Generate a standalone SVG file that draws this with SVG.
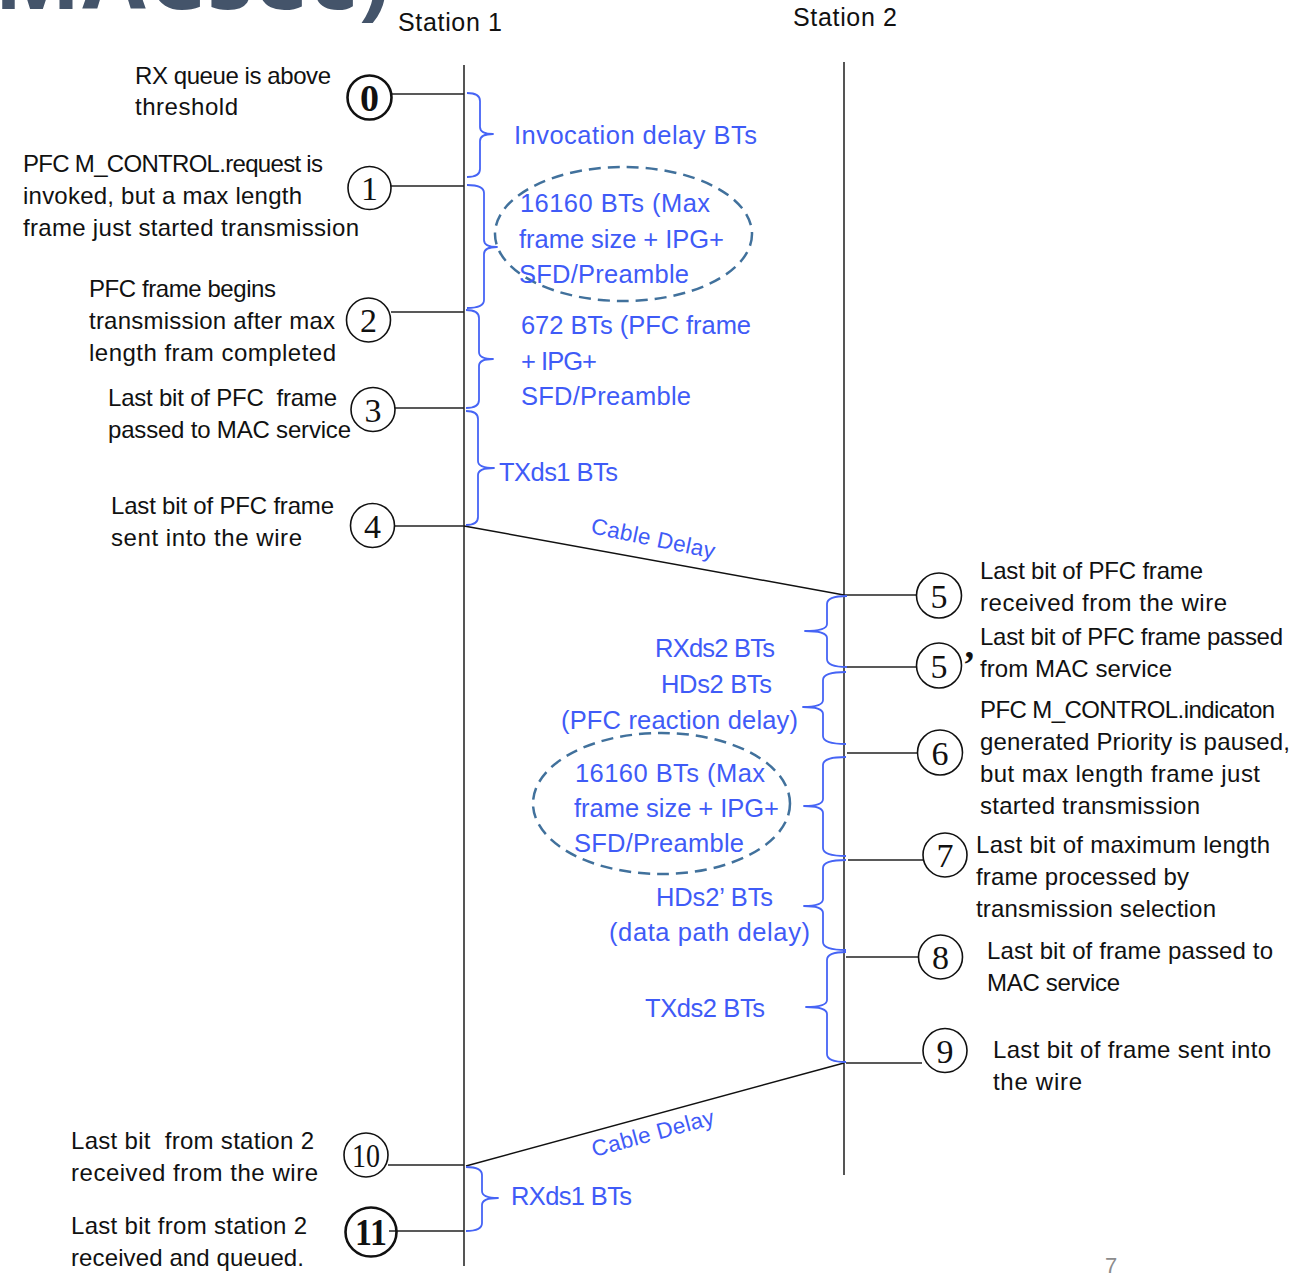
<svg xmlns="http://www.w3.org/2000/svg" width="1294" height="1275" viewBox="0 0 1294 1275">
  <defs>
    <style>
      .title { font-family: "Open Sans", "Liberation Sans", sans-serif; font-weight: 700; fill: #44546A; }
      .hdr { font-family: "Liberation Sans", Arial, sans-serif; font-size: 25px; fill: #111; }
      .lbl { font-family: "Liberation Sans", Arial, sans-serif; font-size: 24px; fill: #111; }
      .blu { font-family: "Liberation Sans", Arial, sans-serif; font-size: 25.5px; fill: #3F5BF7; }
      .cab { font-family: "Liberation Sans", Arial, sans-serif; font-size: 22.5px; fill: #3F5BF7; }
      .num { font-family: "Liberation Serif", "DejaVu Serif", serif; font-size: 34px; fill: #111; text-anchor: middle; }
      .numb { font-family: "Liberation Serif", "DejaVu Serif", serif; font-size: 38px; font-weight: 700; fill: #111; text-anchor: middle; }
      .ring { fill: none; stroke: #111; stroke-width: 1.6; }
      .ringb { fill: none; stroke: #111; stroke-width: 2.6; }
      .life { stroke: #555; stroke-width: 2; }
      .lead { stroke: #222; stroke-width: 1.5; }
      .wire { stroke: #111; stroke-width: 1.5; fill: none; }
      .brace { fill: none; stroke: #4664F5; stroke-width: 1.8; stroke-linejoin: round; }
      .dash { fill: none; stroke: #41719C; stroke-width: 2.5; stroke-dasharray: 12 7; }
      .page { font-family: "Liberation Sans", Arial, sans-serif; font-size: 22px; fill: #8C8C8C; }
    </style>
  </defs>

  <rect width="1294" height="1275" fill="#fff"/>

  <!-- slide title, clipped at the top edge -->
  <text class="title" x="-6" y="9" font-size="92" textLength="396">MACsec)</text>

  <!-- station headers and lifelines -->
  <g id="station1">
    <text class="hdr" x="398" y="31" textLength="104">Station 1</text>
    <line class="life" x1="464" y1="65" x2="464" y2="1266"/>
  </g>
  <g id="station2">
    <text class="hdr" x="793" y="26" textLength="104">Station 2</text>
    <line class="life" x1="844" y1="62" x2="844" y2="1175"/>
  </g>

  <!-- leader lines and cable transfers -->
  <g id="connectors">
    <line class="lead" x1="391" y1="94" x2="464" y2="94"/>
    <line class="lead" x1="391" y1="186" x2="464" y2="186"/>
    <line class="lead" x1="391" y1="312" x2="464" y2="312"/>
    <line class="lead" x1="395" y1="408" x2="464" y2="408"/>
    <line class="lead" x1="395" y1="526" x2="464" y2="526"/>
    <line class="lead" x1="844" y1="595" x2="917" y2="595"/>
    <line class="lead" x1="846" y1="667" x2="917" y2="667"/>
    <line class="lead" x1="847" y1="753" x2="918" y2="753"/>
    <line class="lead" x1="848" y1="860" x2="923" y2="860"/>
    <line class="lead" x1="846" y1="957" x2="918" y2="957"/>
    <line class="lead" x1="846" y1="1063" x2="922" y2="1063"/>
    <line class="lead" x1="388" y1="1165" x2="464" y2="1165"/>
    <line class="lead" x1="389" y1="1231" x2="464" y2="1231"/>
    <line class="wire" x1="464" y1="526" x2="844" y2="595"/>
    <line class="wire" x1="844" y1="1063" x2="466" y2="1166"/>
    <text class="cab" transform="translate(590,533) rotate(11.8)" textLength="126">Cable Delay</text>
    <text class="cab" transform="translate(594,1157) rotate(-15.2)" textLength="126">Cable Delay</text>
  </g>

  <!-- Station 1 events -->
  <g id="ev0">
    <circle class="ringb" cx="369.5" cy="97.5" r="22"/>
    <text class="numb" x="369.5" y="111" font-size="42">0</text>
    <text class="lbl" x="135" y="84" textLength="196">RX queue is above</text>
    <text class="lbl" x="135" y="115" textLength="103">threshold</text>
  </g>
  <g id="ev1">
    <circle class="ring" cx="369.5" cy="188" r="21.5"/>
    <text class="num" x="369.5" y="200">1</text>
    <text class="lbl" x="23" y="172" textLength="300">PFC M_CONTROL.request is</text>
    <text class="lbl" x="23" y="204" textLength="279">invoked, but a max length</text>
    <text class="lbl" x="23" y="236" textLength="336">frame just started transmission</text>
  </g>
  <g id="ev2">
    <circle class="ring" cx="368.5" cy="320" r="22"/>
    <text class="num" x="368.5" y="332">2</text>
    <text class="lbl" x="89" y="297" textLength="187">PFC frame begins</text>
    <text class="lbl" x="89" y="329" textLength="246">transmission after max</text>
    <text class="lbl" x="89" y="361" textLength="247">length fram completed</text>
  </g>
  <g id="ev3">
    <circle class="ring" cx="373" cy="409.5" r="22"/>
    <text class="num" x="373" y="421.5">3</text>
    <text class="lbl" x="108" y="406" xml:space="preserve" textLength="229">Last bit of PFC  frame</text>
    <text class="lbl" x="108" y="438" textLength="243">passed to MAC service</text>
  </g>
  <g id="ev4">
    <circle class="ring" cx="372.5" cy="525.5" r="22"/>
    <text class="num" x="372.5" y="537.5">4</text>
    <text class="lbl" x="111" y="514" textLength="223">Last bit of PFC frame</text>
    <text class="lbl" x="111" y="546" textLength="191">sent into the wire</text>
  </g>

  <!-- Station 2 events -->
  <g id="ev5">
    <circle class="ring" cx="939" cy="595.5" r="22.5"/>
    <text class="num" x="939" y="607.5">5</text>
    <text class="lbl" x="980" y="579" textLength="223">Last bit of PFC frame</text>
    <text class="lbl" x="980" y="611" textLength="247">received from the wire</text>
  </g>
  <g id="ev5p">
    <circle class="ring" cx="939" cy="665.5" r="22.5"/>
    <text class="num" x="939" y="677.5">5</text>
    <text class="numb" x="969" y="677" font-size="40">’</text>
    <text class="lbl" x="980" y="645" textLength="303">Last bit of PFC frame passed</text>
    <text class="lbl" x="980" y="677" textLength="192">from MAC service</text>
  </g>
  <g id="ev6">
    <circle class="ring" cx="940" cy="752.5" r="22.5"/>
    <text class="num" x="940" y="764.5">6</text>
    <text class="lbl" x="980" y="718" textLength="295">PFC M_CONTROL.indicaton</text>
    <text class="lbl" x="980" y="750" textLength="310">generated Priority is paused,</text>
    <text class="lbl" x="980" y="782" textLength="280">but max length frame just</text>
    <text class="lbl" x="980" y="814" textLength="220">started transmission</text>
  </g>
  <g id="ev7">
    <circle class="ring" cx="945" cy="855" r="22"/>
    <text class="num" x="945" y="867">7</text>
    <text class="lbl" x="976" y="853" textLength="294">Last bit of maximum length</text>
    <text class="lbl" x="976" y="885" textLength="213">frame processed by</text>
    <text class="lbl" x="976" y="917" textLength="240">transmission selection</text>
  </g>
  <g id="ev8">
    <circle class="ring" cx="940.5" cy="957" r="22"/>
    <text class="num" x="940.5" y="969">8</text>
    <text class="lbl" x="987" y="959" textLength="286">Last bit of frame passed to</text>
    <text class="lbl" x="987" y="991" textLength="133">MAC service</text>
  </g>
  <g id="ev9">
    <circle class="ring" cx="945" cy="1050.5" r="22"/>
    <text class="num" x="945" y="1062.5">9</text>
    <text class="lbl" x="993" y="1058" textLength="278">Last bit of frame sent into</text>
    <text class="lbl" x="993" y="1090" textLength="89">the wire</text>
  </g>

  <!-- Station 1 reception events -->
  <g id="ev10">
    <circle class="ring" cx="366" cy="1155" r="22"/>
    <text class="num" x="366" y="1167" textLength="28" lengthAdjust="spacingAndGlyphs">10</text>
    <text class="lbl" x="71" y="1149" xml:space="preserve" textLength="243">Last bit  from station 2</text>
    <text class="lbl" x="71" y="1181" textLength="247">received from the wire</text>
  </g>
  <g id="ev11">
    <ellipse class="ringb" cx="371" cy="1232" rx="25.5" ry="24.5"/>
    <text class="numb" x="371" y="1245" textLength="32" lengthAdjust="spacingAndGlyphs">11</text>
    <text class="lbl" x="71" y="1234" textLength="236">Last bit from station 2</text>
    <text class="lbl" x="71" y="1266" textLength="233">received and queued.</text>
  </g>

  <!-- Station 1 intervals -->
  <g id="iv-invocation">
    <path class="brace" d="M467,93 Q480,93 480,101 L480,127 Q480,134 493,134 Q480,134 480,141 L480,169 Q480,177 467,177"/>
    <text class="blu" x="514" y="144" textLength="243">Invocation delay BTs</text>
  </g>
  <g id="iv-maxframe1">
    <path class="brace" d="M467,185 Q484,185 484,193 L484,240 Q484,247 497,247 Q484,247 484,254 L484,300 Q484,308 467,308"/>
    <ellipse class="dash" cx="623.5" cy="234" rx="128.5" ry="67"/>
    <text class="blu" x="520" y="212" textLength="190">16160 BTs (Max</text>
    <text class="blu" x="519" y="248" textLength="205">frame size + IPG+</text>
    <text class="blu" x="519" y="283" textLength="170">SFD/Preamble</text>
  </g>
  <g id="iv-pfcframe">
    <path class="brace" d="M466,310 Q479,310 479,318 L479,352 Q479,359 493,359 Q479,359 479,366 L479,400 Q479,408 466,408"/>
    <text class="blu" x="521" y="334" textLength="230">672 BTs (PFC frame</text>
    <text class="blu" x="521" y="370" textLength="76">+ IPG+</text>
    <text class="blu" x="521" y="405" textLength="170">SFD/Preamble</text>
  </g>
  <g id="iv-txds1">
    <path class="brace" d="M466,411 Q478,411 478,419 L478,461 Q478,468 494,468 Q478,468 478,475 L478,517 Q478,525 466,525"/>
    <text class="blu" x="499" y="481" textLength="119">TXds1 BTs</text>
  </g>
  <g id="iv-rxds1">
    <path class="brace" d="M466,1167 Q482,1167 482,1175 L482,1191 Q482,1198 498,1198 Q482,1198 482,1205 L482,1223 Q482,1231 466,1231"/>
    <text class="blu" x="511" y="1205" textLength="121">RXds1 BTs</text>
  </g>

  <!-- Station 2 intervals -->
  <g id="iv-rxds2">
    <path class="brace" d="M847,596 Q827,596 827,604 L827,624 Q827,631 805,631 Q827,631 827,638 L827,659 Q827,667 847,667"/>
    <text class="blu" x="655" y="657" textLength="120">RXds2 BTs</text>
  </g>
  <g id="iv-hds2">
    <path class="brace" d="M846,672 Q823,672 823,680 L823,700 Q823,707 803,707 Q823,707 823,714 L823,736 Q823,744 846,744"/>
    <text class="blu" x="661" y="693" textLength="111">HDs2 BTs</text>
    <text class="blu" x="561" y="729" textLength="237">(PFC reaction delay)</text>
  </g>
  <g id="iv-maxframe2">
    <path class="brace" d="M846,757 Q823,757 823,765 L823,799 Q823,806 804,806 Q823,806 823,813 L823,848 Q823,856 846,856"/>
    <ellipse class="dash" cx="661.5" cy="803.5" rx="128.5" ry="70.5"/>
    <text class="blu" x="575" y="782" textLength="190">16160 BTs (Max</text>
    <text class="blu" x="574" y="817" textLength="205">frame size + IPG+</text>
    <text class="blu" x="574" y="852" textLength="170">SFD/Preamble</text>
  </g>
  <g id="iv-hds2p">
    <path class="brace" d="M846,860 Q823,860 823,868 L823,899 Q823,906 804,906 Q823,906 823,913 L823,942 Q823,950 846,950"/>
    <text class="blu" x="656" y="906" textLength="117">HDs2’ BTs</text>
    <text class="blu" x="609" y="941" textLength="201">(data path delay)</text>
  </g>
  <g id="iv-txds2">
    <path class="brace" d="M846,952 Q827,952 827,960 L827,1000 Q827,1007 806,1007 Q827,1007 827,1014 L827,1054 Q827,1062 846,1062"/>
    <text class="blu" x="645" y="1017" textLength="120">TXds2 BTs</text>
  </g>

  <text class="page" x="1105" y="1273">7</text>
</svg>
